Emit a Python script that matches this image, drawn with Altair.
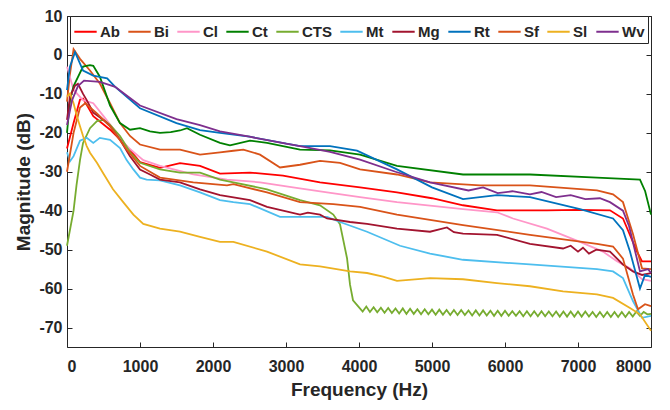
import altair as alt
import pandas as pd

series_names = ["Ab", "Bi", "Cl", "Ct", "CTS", "Mt", "Mg", "Rt", "Sf", "Sl", "Wv"]
series_colors = ["#FF0000", "#D95319", "#FF96C8", "#008000", "#77AC30", "#4DBEEE",
                 "#A2142F", "#0072BD", "#D95319", "#EDB120", "#7E2F8E"]

ab_f = [0, 90, 178, 220, 360, 590, 817, 1000, 1274, 1548, 1822, 2096, 2507, 2959, 3466, 4014,
        4520, 5000, 5425, 5890, 6575, 7000, 7438, 7616, 7808, 7877, 8000]
ab_db = [-24, -17.5, -11.5, -11.2, -15.7, -19.2, -23.4, -27.5, -29, -27.8, -28.5, -30.5, -30.2, -31,
         -32.7, -34, -35.3, -36.8, -38.6, -39.9, -39.9, -39.8, -39.9, -42, -50.5, -53, -53]

bi_f = [0, 40, 90, 178, 315, 452, 590, 726, 863, 1000, 1274, 1548, 1822, 2096, 2279, 2416, 2644,
        2918, 3192, 3466, 3740, 4014, 4520, 4973, 5658, 6342, 7260, 7480, 7616, 7753, 7877, 8000]
bi_db = [-12, -5, 1.5, -1, -4, -7.4, -12.4, -17.5, -20.8, -23, -24.3, -24.3, -25.6, -25, -24.6, -24.3,
         -25.6, -28.9, -28.2, -27.2, -27.7, -29.4, -30.7, -32.7, -33.5, -33.5, -34.8, -35.8, -37.8,
         -46, -54.8, -55]

cl_f = [0, 90, 220, 360, 500, 680, 817, 1045, 1274, 1730, 2192, 2644, 3096, 3562, 4014, 4520, 5425,
        5890, 6110, 6575, 7027, 7342, 7534, 7712, 7877, 8000]
cl_db = [-3, -9, -11.6, -12.4, -15.7, -20, -23.4, -27, -28.5, -30.7, -32, -32.7, -34, -35.3, -36.5,
         -37.8, -39.6, -40.4, -42, -44.6, -48, -50.5, -53, -54.8, -57.6, -58]

ct_f = [0, 41, 90, 220, 315, 360, 450, 590, 726, 863, 1000, 1137, 1274, 1420, 1548, 1644, 1822, 2096,
        2233, 2507, 2740, 3192, 3603, 4014, 4520, 5425, 6342, 7260, 7849, 7920, 8000]
ct_db = [-20, -11.6, -8, -3, -2.6, -2.8, -5.6, -13, -17.5, -19.2, -18.8, -19.6, -20, -19.8, -19.4,
         -18.8, -20.5, -22.6, -23.2, -22, -22.6, -24.3, -24.5, -25.6, -28.5, -30.7, -30.7, -31.5, -32,
         -35, -41]

cts_f = [0, 90, 130, 178, 220, 315, 410, 500, 590, 726, 863, 1000, 1274, 1548, 1822, 2096, 2279, 2740,
         3192, 3466, 3648, 3740, 3836, 3877, 3918, 3986,
         4050, 4100, 4150, 4200, 4250, 4300, 4350, 4400, 4450, 4500, 4550, 4600, 4650, 4700, 4750,
         4800, 4850, 4900, 4950, 5000, 5050, 5100, 5150, 5200, 5250, 5300, 5350, 5400, 5450, 5500,
         5550, 5600, 5650, 5700, 5750, 5800, 5850, 5900, 5950, 6000, 6050, 6100, 6150, 6200, 6250,
         6300, 6350, 6400, 6450, 6500, 6550, 6600, 6650, 6700, 6750, 6800, 6850, 6900, 6950, 7000,
         7050, 7100, 7150, 7200, 7250, 7300, 7350, 7400, 7450, 7500, 7550, 7600, 7650, 7700, 7750,
         7800, 7850, 7900, 7950, 8000]
cts_db = [-49, -40, -33.5, -27, -22.6, -18.8, -17, -16.7, -18, -20.8, -25, -27.7, -29.4, -30.2, -30.2,
          -32, -32.7, -34.5, -37.3, -38.6, -41, -43.5, -52.2, -59, -63, -64.5,
          -65.9, -64.6, -66.0, -64.8, -66.1, -64.9, -66.2, -65.0, -66.3, -65.1, -66.4, -65.1, -66.5,
          -65.2, -66.5, -65.3, -66.6, -65.3, -66.6, -65.4, -66.7, -65.4, -66.7, -65.5, -66.8, -65.5,
          -66.8, -65.5, -66.8, -65.6, -66.9, -65.6, -66.9, -65.6, -66.9, -65.7, -67.0, -65.7, -67.0,
          -65.7, -67.0, -65.8, -67.0, -65.8, -67.1, -65.8, -67.1, -65.8, -67.1, -65.8, -67.1, -65.9,
          -67.1, -65.9, -67.2, -65.9, -67.2, -65.9, -67.2, -65.9, -67.2, -65.9, -67.2, -66.0, -67.3,
          -66.0, -67.3, -66.0, -67.3, -66.0, -67.3, -66.0, -67.3, -66.0, -67.2, -65.9, -67.0, -66.0,
          -66.6, -66.5]

mt_f = [0, 41, 90, 178, 270, 360, 450, 590, 726, 817, 909, 1000, 1090, 1274, 1548, 1822, 2096, 2279,
        2507, 2918, 3192, 3562, 3740, 4110, 4562, 4973, 5425, 6342, 7260, 7480, 7616, 7753, 7877, 8000]
mt_db = [-25, -27.3, -26, -22, -21.3, -22.6, -21.3, -21.8, -23.9, -27, -29.4, -31.5, -32, -32.2,
         -33.5, -35.3, -37.3, -37.8, -38.3, -41.6, -41.6, -41.6, -42.9, -45.4, -49, -51, -52.6, -53.8,
         -55, -55.6, -57.3, -63.2, -67.5, -67]

mg_f = [0, 41, 110, 150, 220, 270, 360, 500, 590, 726, 863, 1000, 1137, 1274, 1548, 1822, 2096, 2507,
        2740, 3192, 3300, 3466, 3562, 3877, 4110, 4520, 4973, 5100, 5205, 5300, 5425, 5890, 6342,
        6795, 6900, 7000, 7068, 7150, 7250, 7438, 7616, 7753, 7877, 8000]
mg_db = [-16.7, -10.7, -7.9, -7.4, -10, -11.6, -14.8, -16.7, -18.3, -21.8, -26, -29.4, -30.7, -32,
         -32.7, -34.5, -36, -37.3, -39, -41, -40.5, -41, -42, -42.9, -43.4, -44.6, -45.4, -44.8, -44.3,
         -45.5, -45.9, -46.2, -48.5, -49.7, -49, -50.5, -49.5, -51, -50, -50.5, -53.8, -55.6, -56.5,
         -56]

rt_f = [0, 40, 110, 220, 360, 550, 660, 1000, 1500, 1822, 2096, 2500, 3192, 3603, 3973, 4520, 5000,
        5425, 5890, 6342, 7027, 7480, 7616, 7712, 7849, 7918, 8000]
rt_db = [-9, -3, 0.7, -4, -5.3, -6, -8.2, -13.7, -17.5, -19.3, -20, -21, -23.4, -23.4, -24.6, -29.4,
         -34, -37, -36, -36.5, -39.6, -42, -45, -50.5, -60, -56.5, -57]

sf_f = [0, 90, 178, 250, 410, 590, 817, 1000, 1274, 1730, 2192, 2279, 2740, 3192, 3648, 4014, 4520,
        5425, 6342, 7260, 7480, 7616, 7753, 7822, 7918, 8000]
sf_db = [-30, -20, -13.5, -12.4, -15, -18.3, -24.3, -28.5, -31.5, -32.7, -33.5, -33.2, -35.3, -37.8,
         -38.3, -39, -41, -43.7, -46.2, -48.5, -49.2, -52.3, -61.5, -65.3, -64, -64.5]

sl_f = [0, 41, 90, 137, 178, 220, 270, 315, 410, 500, 630, 770, 909, 1045, 1274, 1548, 1822, 2096,
        2279, 2740, 3192, 3466, 3877, 4110, 4329, 4520, 4973, 5425, 5890, 6342, 6795, 7260, 7480,
        7712, 7849, 8000]
sl_db = [-10.7, -9.9, -12.4, -15.8, -18.3, -20.8, -23.4, -25.1, -27.7, -30.5, -34.5, -37.8, -41,
         -43.4, -44.6, -45.4, -46.7, -48, -48, -50.5, -53.8, -54.3, -55.6, -56, -56.9, -58, -57.3,
         -57.6, -58.6, -59.4, -60.7, -61.5, -62.4, -65, -66.6, -70.8]

wv_f = [0, 70, 150, 233, 452, 660, 817, 1000, 1500, 1822, 2096, 2500, 3000, 3192, 3603, 4014, 4500,
        4973, 5500, 5700, 5900, 6100, 6342, 6500, 6700, 6900, 7100, 7300, 7438, 7616, 7700, 7849,
        7960, 8000]
wv_db = [-18, -11.6, -8, -6.6, -6.9, -8.2, -10.4, -13, -16.5, -18, -19.6, -21, -22.8, -23.4, -24.9,
         -26.9, -30, -32.7, -34.8, -34, -35.5, -35, -35.8, -35.2, -36.5, -36, -37, -36.8, -37.8, -40,
         -44, -55.6, -55, -56]

all_f = [ab_f, bi_f, cl_f, ct_f, cts_f, mt_f, mg_f, rt_f, sf_f, sl_f, wv_f]
all_db = [ab_db, bi_db, cl_db, ct_db, cts_db, mt_db, mg_db, rt_db, sf_db, sl_db, wv_db]

rows = []
for name, fs, ds in zip(series_names, all_f, all_db):
    for f, d in zip(fs, ds):
        rows.append({"series": name, "f": f, "db": d})
df = pd.DataFrame(rows)

x_ticks = [0, 1000, 2000, 3000, 4000, 5000, 6000, 7000, 8000]
y_ticks = [-70, -60, -50, -40, -30, -20, -10, 0, 10]

FONT = "Liberation Sans"
TXT = "#262626"

xscale = alt.Scale(domain=[0, 8000], nice=False)
yscale = alt.Scale(domain=[-75, 10], nice=False)

lines = alt.Chart(df).mark_line(strokeWidth=1.8).encode(
    x=alt.X("f:Q", scale=xscale,
            axis=alt.Axis(values=x_ticks, offset=-5, tickSize=5, domain=False, grid=False,
                          labelPadding=11, title="Frequency (Hz)", titlePadding=6,
                          labelExpr="'' + datum.value")),
    y=alt.Y("db:Q", scale=yscale,
            axis=alt.Axis(values=y_ticks, offset=-5, tickSize=5, domain=False, grid=False,
                          labelPadding=5, title="Magnitude (dB)", titlePadding=5,
                          labelExpr="'' + datum.value")),
    color=alt.Color("series:N", sort=series_names,
                    scale=alt.Scale(domain=series_names, range=series_colors),
                    legend=alt.Legend(orient="none", legendX=3, legendY=0, direction="horizontal",
                                      columns=11, title=None, symbolType="stroke",
                                      symbolSize=500, symbolStrokeWidth=2, labelOffset=2,
                                      columnPadding=4, padding=3, fillColor="white",
                                      strokeColor=TXT, labelFontSize=15, labelFontWeight="bold",
                                      labelFont=FONT, labelColor=TXT)),
)

frame = alt.Chart(df).mark_line(strokeOpacity=0).encode(
    x=alt.X("f:Q", scale=xscale,
            axis=alt.Axis(orient="top", values=x_ticks, offset=-5, tickSize=5, domain=False,
                          grid=False, labels=False, title=None)),
    y=alt.Y("db:Q", scale=yscale,
            axis=alt.Axis(orient="right", values=y_ticks, offset=-5, tickSize=5, domain=False,
                          grid=False, labels=False, title=None)),
    detail="series:N",
)

chart = alt.layer(lines, frame).resolve_axis(x="independent", y="independent").properties(
    width=584, height=331,
    autosize=alt.AutoSizeParams(type="none"),
    padding={"left": 59, "top": 8, "right": 8, "bottom": 55},
).configure_view(
    stroke=TXT, strokeWidth=1
).configure_axis(
    labelFont=FONT, labelFontSize=16, labelFontWeight="bold", labelColor=TXT,
    titleFont=FONT, titleFontSize=19, titleFontWeight="bold", titleColor=TXT,
    tickColor=TXT, tickWidth=1
)

chart.save("out.html", embed_options={"renderer": "svg", "actions": False})
